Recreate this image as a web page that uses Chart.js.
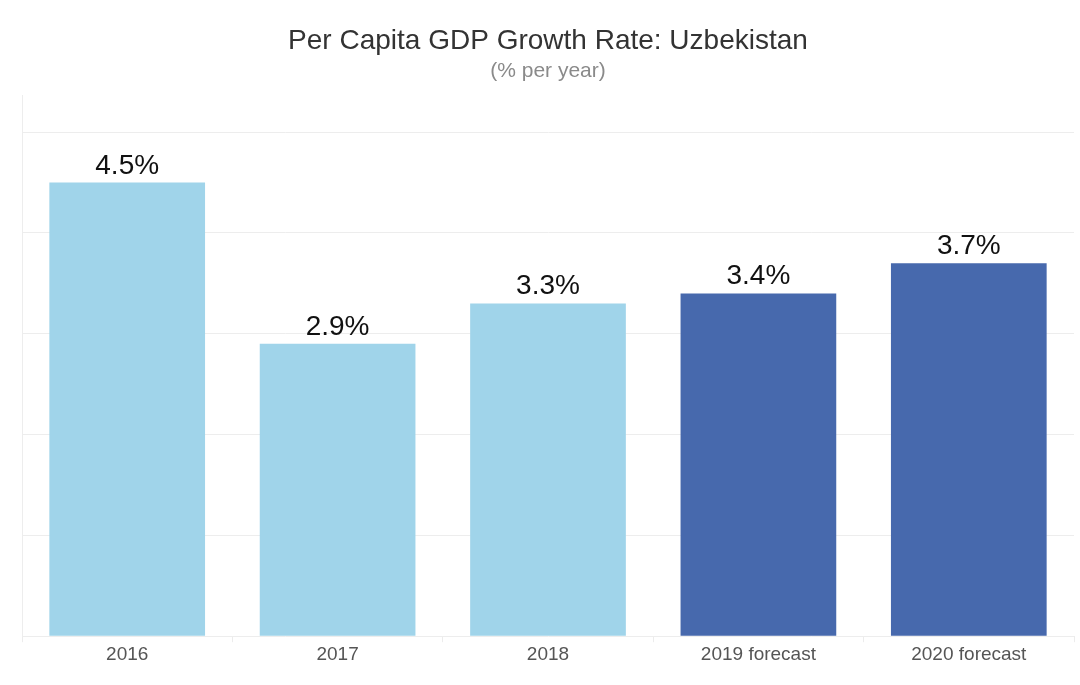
<!DOCTYPE html>
<html><head><meta charset="utf-8">
<script src="https://cdn.jsdelivr.net/npm/chart.js@4/dist/chart.umd.min.js"></script>
<style>html,body{margin:0;padding:0;background:#fff}#wrap{width:1080px;height:685px}</style>
</head><body><div id="wrap"><canvas id="c" width="1080" height="685"></canvas></div>
<script>
const categories = ["2016", "2017", "2018", "2019 forecast", "2020 forecast"];
const growthValues = [4.5, 2.9, 3.3, 3.4, 3.7];
const barColors = ["#a0d4ea", "#a0d4ea", "#a0d4ea", "#4769ad", "#4769ad"];
const yTickValues = [0, 1, 2, 3, 4, 5];

const FONT = "'Liberation Sans', Arial, Helvetica, sans-serif";

const labelPlugin = {
  id: "valueLabels",
  afterDatasetsDraw(chart) {
    const ctx = chart.ctx;
    const meta = chart.getDatasetMeta(0);
    ctx.save();
    ctx.font = "28px " + FONT;
    ctx.fillStyle = "#111";
    ctx.textAlign = "center";
    ctx.textBaseline = "alphabetic";
    meta.data.forEach((bar, i) => {
      ctx.fillText(growthValues[i].toFixed(1) + "%", bar.x, bar.y - 9);
    });
    ctx.restore();
  }
};

new Chart(document.getElementById("c"), {
  type: "bar",
  data: {
    labels: categories,
    datasets: [{
      data: growthValues,
      backgroundColor: barColors,
      borderWidth: 0,
      barPercentage: 0.74,
      categoryPercentage: 1.0
    }]
  },
  options: {
    responsive: false,
    animation: false,
    devicePixelRatio: 1,
    layout: { padding: { left: 22, right: 6, top: 0, bottom: 18 } },
    plugins: {
      legend: { display: false },
      tooltip: { enabled: false },
      title: {
        display: true,
        text: "Per Capita GDP Growth Rate: Uzbekistan",
        color: "#333",
        font: { family: FONT, size: 28, weight: "normal" },
        padding: { top: 24, bottom: 1 }
      },
      subtitle: {
        display: true,
        text: "(% per year)",
        color: "#8a8a8a",
        font: { family: FONT, size: 21, weight: "normal" },
        padding: { top: 0, bottom: 12 }
      }
    },
    scales: {
      x: {
        grid: { display: true, drawOnChartArea: false, drawTicks: true, tickLength: 6, color: "#ececec", offset: true },
        border: { display: false },
        ticks: { color: "#555", font: { family: FONT, size: 19 }, padding: 1 }
      },
      y: {
        min: 0,
        max: 5.36,
        afterBuildTicks(axis) { axis.ticks = yTickValues.map(v => ({ value: v })); },
        grid: { color: "#ededed", drawTicks: false },
        border: { display: true, color: "#ededed" },
        ticks: { display: false }
      }
    }
  },
  plugins: [labelPlugin]
});
</script></body></html>
